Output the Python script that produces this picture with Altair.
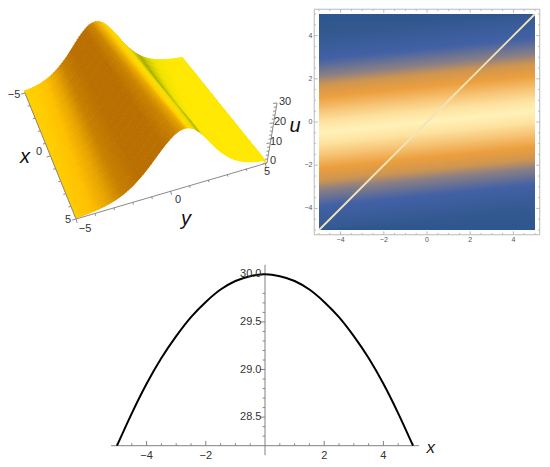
import altair as alt
import pandas as pd

# ---------- values ----------
ridge_half = [30.0, 29.5, 28.2, 26.1, 23.6, 20.8, 17.9, 15.1, 12.6, 10.4, 8.4, 6.8, 5.4, 4.3, 3.4, 2.7, 2.1, 1.7, 1.3, 1.0, 0.8, 0.6, 0.5]
ridge_tilt = 0.1
slice_x = [-5, -4.5, -4, -3.5, -3, -2.5, -2, -1.5, -1, -0.5, 0, 0.5, 1, 1.5, 2, 2.5, 3, 3.5, 4, 4.5, 5]
slice_u = [28.2, 28.54, 28.85, 29.12, 29.35, 29.55, 29.71, 29.84, 29.93, 29.98, 30, 29.98, 29.93, 29.84, 29.71, 29.55, 29.35, 29.12, 28.85, 28.54, 28.2]

shade_stops = [-5.5, -3.8, -3.2, -2.6, -2.1, -1.5, -0.7, -0.3, 0.0, 0.4, 1.0, 1.8, 2.4, 2.7, 3.0, 3.6, 4.5, 30]
shade_cols = ["#ffd800", "#ffcc00", "#ffc000", "#e8a400", "#c88000", "#ba7000", "#ba7000", "#cc8400", "#ecac00", "#ffd000", "#ffdd00", "#e8dc00", "#c8c400", "#a5a800", "#c8c800", "#f0e400", "#ffe800", "#ffe800"]
heat_stops = [-6, -4.6, -3.4, -2.65, -2.2, -1.65, -1.1, -0.5, 0, 0.5, 1.1, 1.65, 2.2, 2.65, 3.4, 4.6, 6]
heat_cols = ["#2b558f", "#33598f", "#4261a6", "#8a7f85", "#cf9650", "#ec9f3e", "#f6c070", "#fde3a0", "#fff1b8", "#fde3a0", "#f6c070", "#ec9f3e", "#cf9650", "#8a7f85", "#4261a6", "#33598f", "#2b558f"]

d_vals = [-5.5 + 0.25 * i for i in range(45)]
u_vals = ridge_half[:0:-1] + ridge_half

FONT = "Liberation Sans"
W, H = 534, 455
alt.data_transformers.enable("default", max_rows=None)


def page_x():
    return alt.Scale(domain=[8, 8 + W], range=[0, W])


def page_y():
    return alt.Scale(domain=[8, 8 + H], range=[0, H])


# ---------- 3D projection ----------
A, B, C, D = (25, 93), (76, 219), (265, 163), (182, 58)


def project(x, y, u):
    s, t = (x + 5) / 10, (y + 5) / 10
    gx = (1 - s) * ((1 - t) * A[0] + t * D[0]) + s * ((1 - t) * B[0] + t * C[0])
    gy = (1 - s) * ((1 - t) * A[1] + t * D[1]) + s * ((1 - t) * B[1] + t * C[1])
    h = (1.87 + 0.13 * s) * u
    return gx + h * (gx - 100) / 1000, gy - h


def clamp(v):
    return max(-5, min(5, v))


def light(d, x):
    # lighting bands do not run quite parallel to the ridge
    if d < 0:
        return d * 1.9 / (1.9 + 0.09 * (x + 5))
    return d * 2.7 / (2.7 - 0.21 * (x + 5))


SUB, XCELLS = 2, 16
rows = []
patch = 0
for i in range(len(d_vals) - 1, 0, -1):
    for j in range(SUB):
        f1, f0 = 1 - j / SUB, 1 - (j + 1) / SUB
        d1 = d_vals[i - 1] + (d_vals[i] - d_vals[i - 1]) * f1
        d0 = d_vals[i - 1] + (d_vals[i] - d_vals[i - 1]) * f0
        u1 = u_vals[i - 1] + (u_vals[i] - u_vals[i - 1]) * f1
        u0 = u_vals[i - 1] + (u_vals[i] - u_vals[i - 1]) * f0
        for c in range(XCELLS):
            xa, xb = -5 + 10 * c / XCELLS, -5 + 10 * (c + 1) / XCELLS
            ring = [(xa, d1, u1), (xb, d1, u1), (xb, d0, u0), (xa, d0, u0)]
            patch += 1
            shade = light((d0 + d1) / 2, (xa + xb) / 2)
            for k, (x, d, u) in enumerate(ring):
                px, py = project(x, clamp(d + ridge_tilt * x), u)
                rows.append(dict(p=patch, k=k, px=round(px, 2), py=round(py, 2), shade=round(shade, 3)))
surface = pd.DataFrame(rows)

shade_scale = alt.Scale(domain=shade_stops, range=shade_cols, interpolate="rgb")
surf = alt.Chart(surface).mark_line(strokeWidth=1, interpolate="linear").encode(
    x=alt.X("px:Q", scale=page_x(), axis=None),
    y=alt.Y("py:Q", scale=page_y(), axis=None),
    order="k:Q",
    detail="p:N",
    fill=alt.Fill("shade:Q", scale=shade_scale, legend=None),
    stroke=alt.Stroke("shade:Q", scale=shade_scale, legend=None),
)

# 3D box axes
seg = []
for i in range(11):
    v = -5 + i
    L = 4 if i in (0, 5, 10) else 2.5
    x0, y0 = project(v, -5, 0)
    seg.append(dict(x=x0, y=y0, x2=x0 - L * 0.97, y2=y0 + L * 0.25))
    x0, y0 = project(5, v, 0)
    seg.append(dict(x=x0, y=y0, x2=x0 + L * 0.3, y2=y0 + L * 0.95))
for i in range(31):
    if i % 2 == 0:
        zx, zy = 265 + 2 + 10 * i / 30, 163 - 60 * i / 30
        L = 4 if i % 10 == 0 else 2.5
        seg.append(dict(x=zx, y=zy, x2=zx - L, y2=zy + L * 0.1))
x0, y0 = project(-5, -5, 0)
x1, y1 = project(5, -5, 0)
x2, y2 = project(5, 5, 0)
seg += [dict(x=x0, y=y0, x2=x1, y2=y1), dict(x=x1, y=y1, x2=x2 + 2, y2=y2), dict(x=x2 + 2, y=y2, x2=277, y2=103)]
box = alt.Chart(pd.DataFrame(seg)).mark_rule(color="#8a8a8a", strokeWidth=1).encode(
    x=alt.X("x:Q", scale=page_x(), axis=None), x2="x2:Q",
    y=alt.Y("y:Q", scale=page_y(), axis=None), y2="y2:Q",
)

box_ticks = pd.DataFrame({
    "t": ["\u22125", "0", "5", "\u22125", "0", "5", "0", "10", "20", "30"],
    "x": [14, 39, 68, 85, 178, 267, 273, 276, 280, 285],
    "y": [95, 152, 220, 229, 200, 172, 161, 142, 122, 102],
})
box_txt = alt.Chart(box_ticks).mark_text(font=FONT, fontSize=11, color="#333333").encode(
    x=alt.X("x:Q", scale=page_x(), axis=None), y=alt.Y("y:Q", scale=page_y(), axis=None), text="t:N")
box_titles = pd.DataFrame({"t": ["x", "y", "u"], "x": [25, 186, 295], "y": [157, 219, 126]})
box_ttl = alt.Chart(box_titles).mark_text(font=FONT, fontSize=20, fontStyle="italic", color="#111111").encode(
    x=alt.X("x:Q", scale=page_x(), axis=None), y=alt.Y("y:Q", scale=page_y(), axis=None), text="t:N")

# ---------- density panel ----------
hx = alt.Scale(domain=[-5, 5], range=[319 - 8, 535 - 8])
hy = alt.Scale(domain=[-5, 5], range=[230 - 8, 14 - 8])

rows = []
n = 110
for i in range(n, 0, -1):
    d1, d0 = -5.5 + 0.1 * i, -5.5 + 0.1 * (i - 1)
    # each band reaches down to the bottom edge; the next one paints over it
    ring = [(-5, clamp(d1 - ridge_tilt * 5)), (5, clamp(d1 + ridge_tilt * 5)), (5, -5), (-5, -5)]
    for k, (x, yy) in enumerate(ring):
        rows.append(dict(strip=n - i, k=k, hxv=x, hyv=yy, band=(d0 + d1) / 2))
heat_scale = alt.Scale(domain=heat_stops, range=heat_cols, interpolate="rgb")
heat = alt.Chart(pd.DataFrame(rows)).mark_line(strokeWidth=0, strokeOpacity=0).encode(
    x=alt.X("hxv:Q", scale=hx, axis=None),
    y=alt.Y("hyv:Q", scale=hy, axis=None),
    order="k:Q",
    detail="strip:N",
    fill=alt.Fill("band:Q", scale=heat_scale, legend=None),
)
diag = alt.Chart(pd.DataFrame({"a": [-5, 5], "b": [-5, 5]})).mark_line(color="#f3e4b8", strokeWidth=1.8).encode(
    x=alt.X("a:Q", scale=hx, axis=None), y=alt.Y("b:Q", scale=hy, axis=None))

E = 5.22
frame = [dict(a=-E, a2=E, b=-E, b2=-E), dict(a=-E, a2=E, b=E, b2=E), dict(a=-E, a2=-E, b=-E, b2=E), dict(a=E, a2=E, b=-E, b2=E)]
for i in range(21):
    v = -5 + 0.5 * i
    L = 0.16 if i % 4 == 2 else 0.08
    frame += [dict(a=v, a2=v, b=-E, b2=-E + L), dict(a=v, a2=v, b=E, b2=E - L),
              dict(a=-E, a2=-E + L, b=v, b2=v), dict(a=E, a2=E - L, b=v, b2=v)]
frm = alt.Chart(pd.DataFrame(frame)).mark_rule(color="#b9b9b9", strokeWidth=1).encode(
    x=alt.X("a:Q", scale=hx, axis=None), x2="a2:Q",
    y=alt.Y("b:Q", scale=hy, axis=None), y2="b2:Q")
h_ticks = [-4, -2, 0, 2, 4]
h_names = ["\u22124", "\u22122", "0", "2", "4"]
hb = alt.Chart(pd.DataFrame({"v": h_ticks, "t": h_names, "w": [-5.45] * 5})).mark_text(font=FONT, fontSize=7, color="#555555").encode(
    x=alt.X("v:Q", scale=hx, axis=None), y=alt.Y("w:Q", scale=hy, axis=None), text="t:N")
hl = alt.Chart(pd.DataFrame({"v": h_ticks, "t": h_names, "w": [-5.3] * 5})).mark_text(font=FONT, fontSize=7, color="#555555", align="right").encode(
    x=alt.X("w:Q", scale=hx, axis=None), y=alt.Y("v:Q", scale=hy, axis=None), text="t:N")

# ---------- slice panel ----------
sx = alt.Scale(domain=[-5, 5], range=[117 - 8, 413 - 8])
sy = alt.Scale(domain=[28.2, 30], range=[445.7 - 8, 274.3 - 8])

ax = [dict(a=-5.2, a2=5.2, b=28.2, b2=28.2), dict(a=0, a2=0, b=28.1, b2=30.1)]
for i in range(21):
    v = -5 + 0.5 * i
    if v != 0:
        ax.append(dict(a=v, a2=v, b=28.2, b2=28.2 + (0.05 if i % 4 == 2 else 0.025)))
for i in range(3, 19):
    v = round(28.3 + 0.1 * (i - 3), 1)
    ax.append(dict(a=0, a2=-0.16 if round(v * 10) % 5 == 0 else -0.08, b=v, b2=v))
axes = alt.Chart(pd.DataFrame(ax)).mark_rule(color="#808080", strokeWidth=1).encode(
    x=alt.X("a:Q", scale=sx, axis=None), x2="a2:Q",
    y=alt.Y("b:Q", scale=sy, axis=None), y2="b2:Q")
curve = alt.Chart(pd.DataFrame({"x": slice_x, "u": slice_u})).mark_line(color="#000000", strokeWidth=2, interpolate="monotone").encode(
    x=alt.X("x:Q", scale=sx, axis=None), y=alt.Y("u:Q", scale=sy, axis=None))
xl = alt.Chart(pd.DataFrame({"v": [-4, -2, 2, 4], "t": ["\u22124", "\u22122", "2", "4"], "w": [28.095] * 4})).mark_text(font=FONT, fontSize=11, color="#333333").encode(
    x=alt.X("v:Q", scale=sx, axis=None), y=alt.Y("w:Q", scale=sy, axis=None), text="t:N")
yl = alt.Chart(pd.DataFrame({"v": [28.5, 29.0, 29.5, 30.0], "t": ["28.5", "29.0", "29.5", "30.0"], "w": [-0.12] * 4})).mark_text(font=FONT, fontSize=11, color="#333333", align="right").encode(
    x=alt.X("w:Q", scale=sx, axis=None), y=alt.Y("v:Q", scale=sy, axis=None), text="t:N")
xt = alt.Chart(pd.DataFrame({"v": [5.6], "t": ["x"], "w": [28.18]})).mark_text(font=FONT, fontSize=17, fontStyle="italic", color="#222222").encode(
    x=alt.X("v:Q", scale=sx, axis=None), y=alt.Y("w:Q", scale=sy, axis=None), text="t:N")

chart = alt.layer(
    surf, box, box_txt, box_ttl, heat, diag, frm, hb, hl, axes, curve, xl, yl, xt
).resolve_scale(x="independent", y="independent", fill="independent", stroke="independent").properties(
    width=W, height=H, padding=0, autosize=alt.AutoSizeParams(type="none"),
).configure_view(stroke=None)

chart.save("out.html", embed_options={"renderer": "svg", "actions": False})
